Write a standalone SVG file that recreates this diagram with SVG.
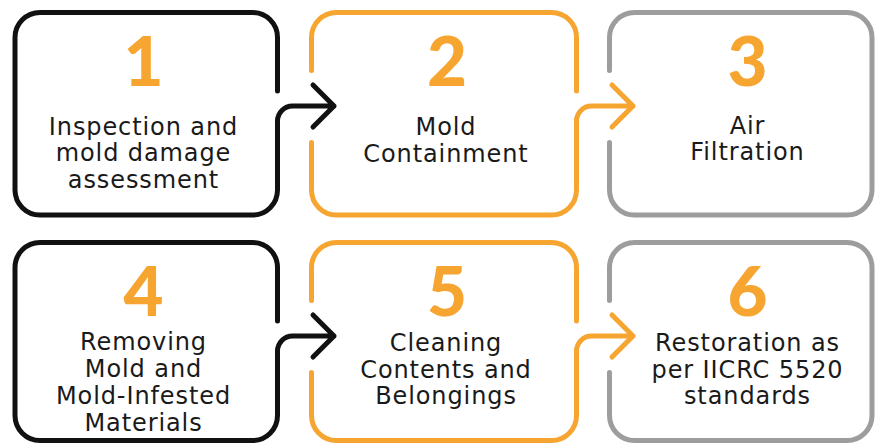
<svg xmlns="http://www.w3.org/2000/svg" width="879" height="444" viewBox="0 0 879 444">
<style>
.box{fill:none;stroke-width:5;stroke-linecap:round;stroke-linejoin:round}
.k{stroke:#111111}
.o{stroke:#F7A531}
.g{stroke:#9D9D9D}
.num{font-family:Lato,Inter,"DejaVu Sans",sans-serif;font-weight:900;font-size:69px;fill:#F7A531;text-anchor:middle}
.lbl{font-family:"DejaVu Sans",sans-serif;font-size:24px;letter-spacing:0.9px;fill:#1a1a1a;text-anchor:middle}
</style>
<rect width="879" height="444" fill="#ffffff"/>
<g id="step1">
<path class="box k" d="M277.5,91 V37.5 A25,25 0 0 0 252.5,12.5 H40 A25,25 0 0 0 15,37.5 V190 A25,25 0 0 0 40,215 H252.5 A25,25 0 0 0 277.5,190 V121"/>
<text class="num" x="143.5" y="86">1</text>
<text class="lbl" x="143.5" y="134.5">Inspection and</text>
<text class="lbl" x="143.5" y="161">mold damage</text>
<text class="lbl" x="143.5" y="187.5">assessment</text>
</g>
<g id="step2">
<path class="box o" d="M576.5,91 V37.5 A25,25 0 0 0 551.5,12.5 H336.5 A25,25 0 0 0 311.5,37.5 V70.5 M311.5,142.5 V190 A25,25 0 0 0 336.5,215 H551.5 A25,25 0 0 0 576.5,190 V121"/>
<text class="num" x="447" y="86">2</text>
<text class="lbl" x="446" y="134.5">Mold</text>
<text class="lbl" x="446" y="161.5">Containment</text>
</g>
<g id="step3">
<path class="box g" d="M609.5,70.5 V37.5 A25,25 0 0 1 634.5,12.5 H847 A25,25 0 0 1 872,37.5 V190 A25,25 0 0 1 847,215 H634.5 A25,25 0 0 1 609.5,190 V142.5"/>
<text class="num" x="747.5" y="86">3</text>
<text class="lbl" x="747.5" y="134">Air</text>
<text class="lbl" x="747.5" y="160">Filtration</text>
</g>
<g id="step4">
<path class="box k" d="M277.5,321 V267.5 A25,25 0 0 0 252.5,242.5 H40 A25,25 0 0 0 15,267.5 V415.5 A25,25 0 0 0 40,440.5 H252.5 A25,25 0 0 0 277.5,415.5 V351"/>
<text class="num" x="143.5" y="316">4</text>
<text class="lbl" x="143.5" y="350">Removing</text>
<text class="lbl" x="143.5" y="377">Mold and</text>
<text class="lbl" x="143.5" y="404">Mold-Infested</text>
<text class="lbl" x="143.5" y="431">Materials</text>
</g>
<g id="step5">
<path class="box o" d="M576.5,321 V267.5 A25,25 0 0 0 551.5,242.5 H336.5 A25,25 0 0 0 311.5,267.5 V300.5 M311.5,372.5 V415.5 A25,25 0 0 0 336.5,440.5 H551.5 A25,25 0 0 0 576.5,415.5 V351"/>
<text class="num" x="447" y="316">5</text>
<text class="lbl" x="446" y="350.5">Cleaning</text>
<text class="lbl" x="446" y="377.5">Contents and</text>
<text class="lbl" x="446" y="404">Belongings</text>
</g>
<g id="step6">
<path class="box g" d="M609.5,300.5 V267.5 A25,25 0 0 1 634.5,242.5 H847 A25,25 0 0 1 872,267.5 V415.5 A25,25 0 0 1 847,440.5 H634.5 A25,25 0 0 1 609.5,415.5 V372.5"/>
<text class="num" x="747.5" y="316">6</text>
<text class="lbl" x="747.5" y="350.5">Restoration as</text>
<text class="lbl" x="747.5" y="377.5">per IICRC 5520</text>
<text class="lbl" x="747.5" y="404">standards</text>
</g>
<g id="connectors">
<path class="box k" d="M277.5,121 A15,15 0 0 1 292.5,106 H334 M313,85 L334,106 L313,127"/>
<path class="box o" d="M576.5,121 A15,15 0 0 1 591.5,106 H633 M612,85 L633,106 L612,127"/>
<path class="box k" d="M277.5,351 A15,15 0 0 1 292.5,336 H334 M313,315 L334,336 L313,357"/>
<path class="box o" d="M576.5,351 A15,15 0 0 1 591.5,336 H633 M612,315 L633,336 L612,357"/>
</g>
</svg>
